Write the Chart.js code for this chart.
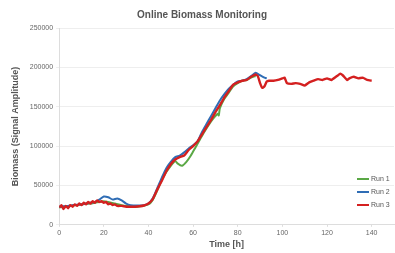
<!DOCTYPE html>
<html>
<head>
<meta charset="utf-8">
<script src="https://cdn.jsdelivr.net/npm/chart.js@4.4.1/dist/chart.umd.min.js"></script>
<style>
    html, body { margin: 0; padding: 0; background: #fff; }
    #wrap { position: relative; width: 395px; height: 253px; }
    #legend { position: absolute; left: 357px; top: 172px; font: 7px "Liberation Sans", Arial, sans-serif; color: #555; }
    #legend div { height: 13px; line-height: 13px; white-space: nowrap; }
    #legend span { display: inline-block; width: 12px; height: 2px; vertical-align: middle; margin-right: 2px; }
</style>
</head>
<body>
<div id="wrap">
    <canvas id="chart" width="395" height="253"></canvas>
    <div id="legend"></div>
</div>
<script>
// Run 1 (green)
const run1Time = [0, 2, 4, 6, 8, 10, 12, 14, 16, 18, 20, 22, 25, 28, 30, 35, 40, 42, 44, 46, 48, 50, 52, 53, 55, 57, 59, 61, 63, 65, 67, 69, 71, 71.5, 72, 74, 76, 78, 80, 82, 84, 86, 88];
const run1Values = [22000, 23000, 23500, 24500, 25000, 26000, 26500, 27000, 28000, 29000, 30000, 29000, 27000, 25000, 24000, 23000, 26000, 32000, 44000, 57000, 67000, 75000, 81000, 78000, 75000, 80000, 88000, 98000, 108000, 118000, 127000, 135000, 141000, 139000, 148000, 160000, 168000, 176000, 180000, 183000, 184000, 187000, 189000];

// Run 2 (blue)
const run2Time = [0, 2, 4, 6, 8, 10, 12, 14, 16, 18, 20, 22, 24, 26, 28, 30, 32, 35, 38, 40, 42, 44, 46, 48, 50, 52, 54, 56, 58, 60, 62, 64, 66, 68, 70, 72, 74, 76, 78, 80, 82, 84, 86, 88, 90, 92, 93];
const run2Values = [23000, 23500, 24000, 25000, 25500, 26000, 27000, 28000, 29000, 32000, 36000, 35000, 32000, 33500, 31000, 27000, 25000, 24500, 25000, 27000, 34000, 47000, 60000, 72000, 80000, 86000, 88000, 92000, 97000, 101000, 106000, 118000, 128000, 138000, 148000, 158000, 166000, 173000, 178000, 182000, 183000, 185000, 189000, 193000, 190000, 187000, 186000];

// Run 3 (red)
const run3Time = [0, 1, 2, 3, 4, 5, 6, 7, 8, 9, 10, 11, 12, 13, 14, 15, 16, 17, 18, 19, 20, 21, 22, 23, 24, 25, 26, 28, 30, 32, 34, 36, 38, 40, 42, 44, 46, 48, 50, 52, 54, 56, 58, 60, 62, 64, 66, 68, 70, 72, 74, 76, 78, 80, 82, 84, 86, 88, 89, 90, 91, 92, 93, 94, 96, 98, 100, 101, 102, 104, 106, 108, 110, 112, 114, 116, 118, 120, 122, 124, 126, 127, 128, 129, 130, 132, 134, 136, 138, 140];
const run3Values = [22000, 25000, 20000, 24000, 21000, 25000, 23000, 26000, 24000, 27000, 25000, 28000, 26000, 29000, 27000, 30000, 28000, 31000, 29000, 30000, 28000, 29000, 26000, 27000, 25000, 26000, 24000, 24000, 23000, 23000, 23000, 23500, 24500, 27000, 33000, 45000, 56000, 68000, 77000, 83000, 86000, 88000, 95000, 100000, 106000, 115000, 124000, 133000, 143000, 152000, 162000, 170000, 178000, 181000, 183000, 184000, 188000, 191000, 189000, 180000, 174000, 176000, 182000, 183000, 183000, 184000, 186000, 187000, 180000, 179000, 180000, 179000, 177000, 181000, 183000, 185000, 184000, 186000, 184000, 188000, 192000, 190000, 187000, 184000, 186000, 188000, 186000, 187000, 184000, 183000];

const seriesNames = ['Run 1', 'Run 2', 'Run 3'];
const seriesColors = ['#5aa845', '#2f6db5', '#d42020'];
const xTicksStep = 20;
const yTicksStep = 50000;

const toPoints = (ts, vs) => ts.map((t, i) => ({ x: t, y: vs[i] }));
const seriesData = [
    toPoints(run1Time, run1Values),
    toPoints(run2Time, run2Values),
    toPoints(run3Time, run3Values)
];

const font = '"Liberation Sans", Arial, sans-serif';

new Chart(document.getElementById('chart'), {
    type: 'line',
    data: {
        datasets: seriesNames.map((name, i) => ({
            label: name,
            data: seriesData[i],
            borderColor: seriesColors[i],
            borderWidth: i === 2 ? 2.4 : 2,
            pointRadius: 0,
            tension: i === 2 ? 0.1 : 0.2,
            order: 2 - i
        }))
    },
    options: {
        responsive: false,
        animation: false,
        layout: { padding: { left: 10, right: 1, top: 0, bottom: 3 } },
        plugins: {
            legend: { display: false },
            tooltip: { enabled: false },
            title: {
                display: true,
                text: 'Online Biomass Monitoring',
                color: '#555',
                font: { family: font, size: 10, weight: 'bold' },
                padding: { top: 9, bottom: 7 }
            }
        },
        scales: {
            x: {
                type: 'linear',
                min: 0,
                max: 150,
                grid: { drawOnChartArea: false, tickLength: 2, color: '#ddd' },
                border: { color: '#ddd' },
                ticks: { stepSize: xTicksStep, includeBounds: false, color: '#666', font: { family: font, size: 7 }, maxRotation: 0, padding: 2 },
                title: { display: true, text: 'Time [h]', color: '#555', font: { family: font, size: 9, weight: 'bold' }, padding: { top: 0, bottom: 0 } }
            },
            y: {
                min: 0,
                max: 250000,
                grid: { color: '#eee', tickLength: 3 },
                border: { color: '#ddd' },
                ticks: { stepSize: yTicksStep, color: '#666', font: { family: font, size: 7 }, padding: 3, callback: v => String(v) },
                title: { display: true, text: 'Biomass (Signal Amplitude)', color: '#555', font: { family: font, size: 9, weight: 'bold' }, padding: { top: 0, bottom: 6 } }
            }
        }
    }
});

const legend = document.getElementById('legend');
seriesNames.forEach((name, i) => {
    legend.innerHTML += `<div><span style="background:${seriesColors[i]}"></span>${name}</div>`;
});
</script>
</body>
</html>
